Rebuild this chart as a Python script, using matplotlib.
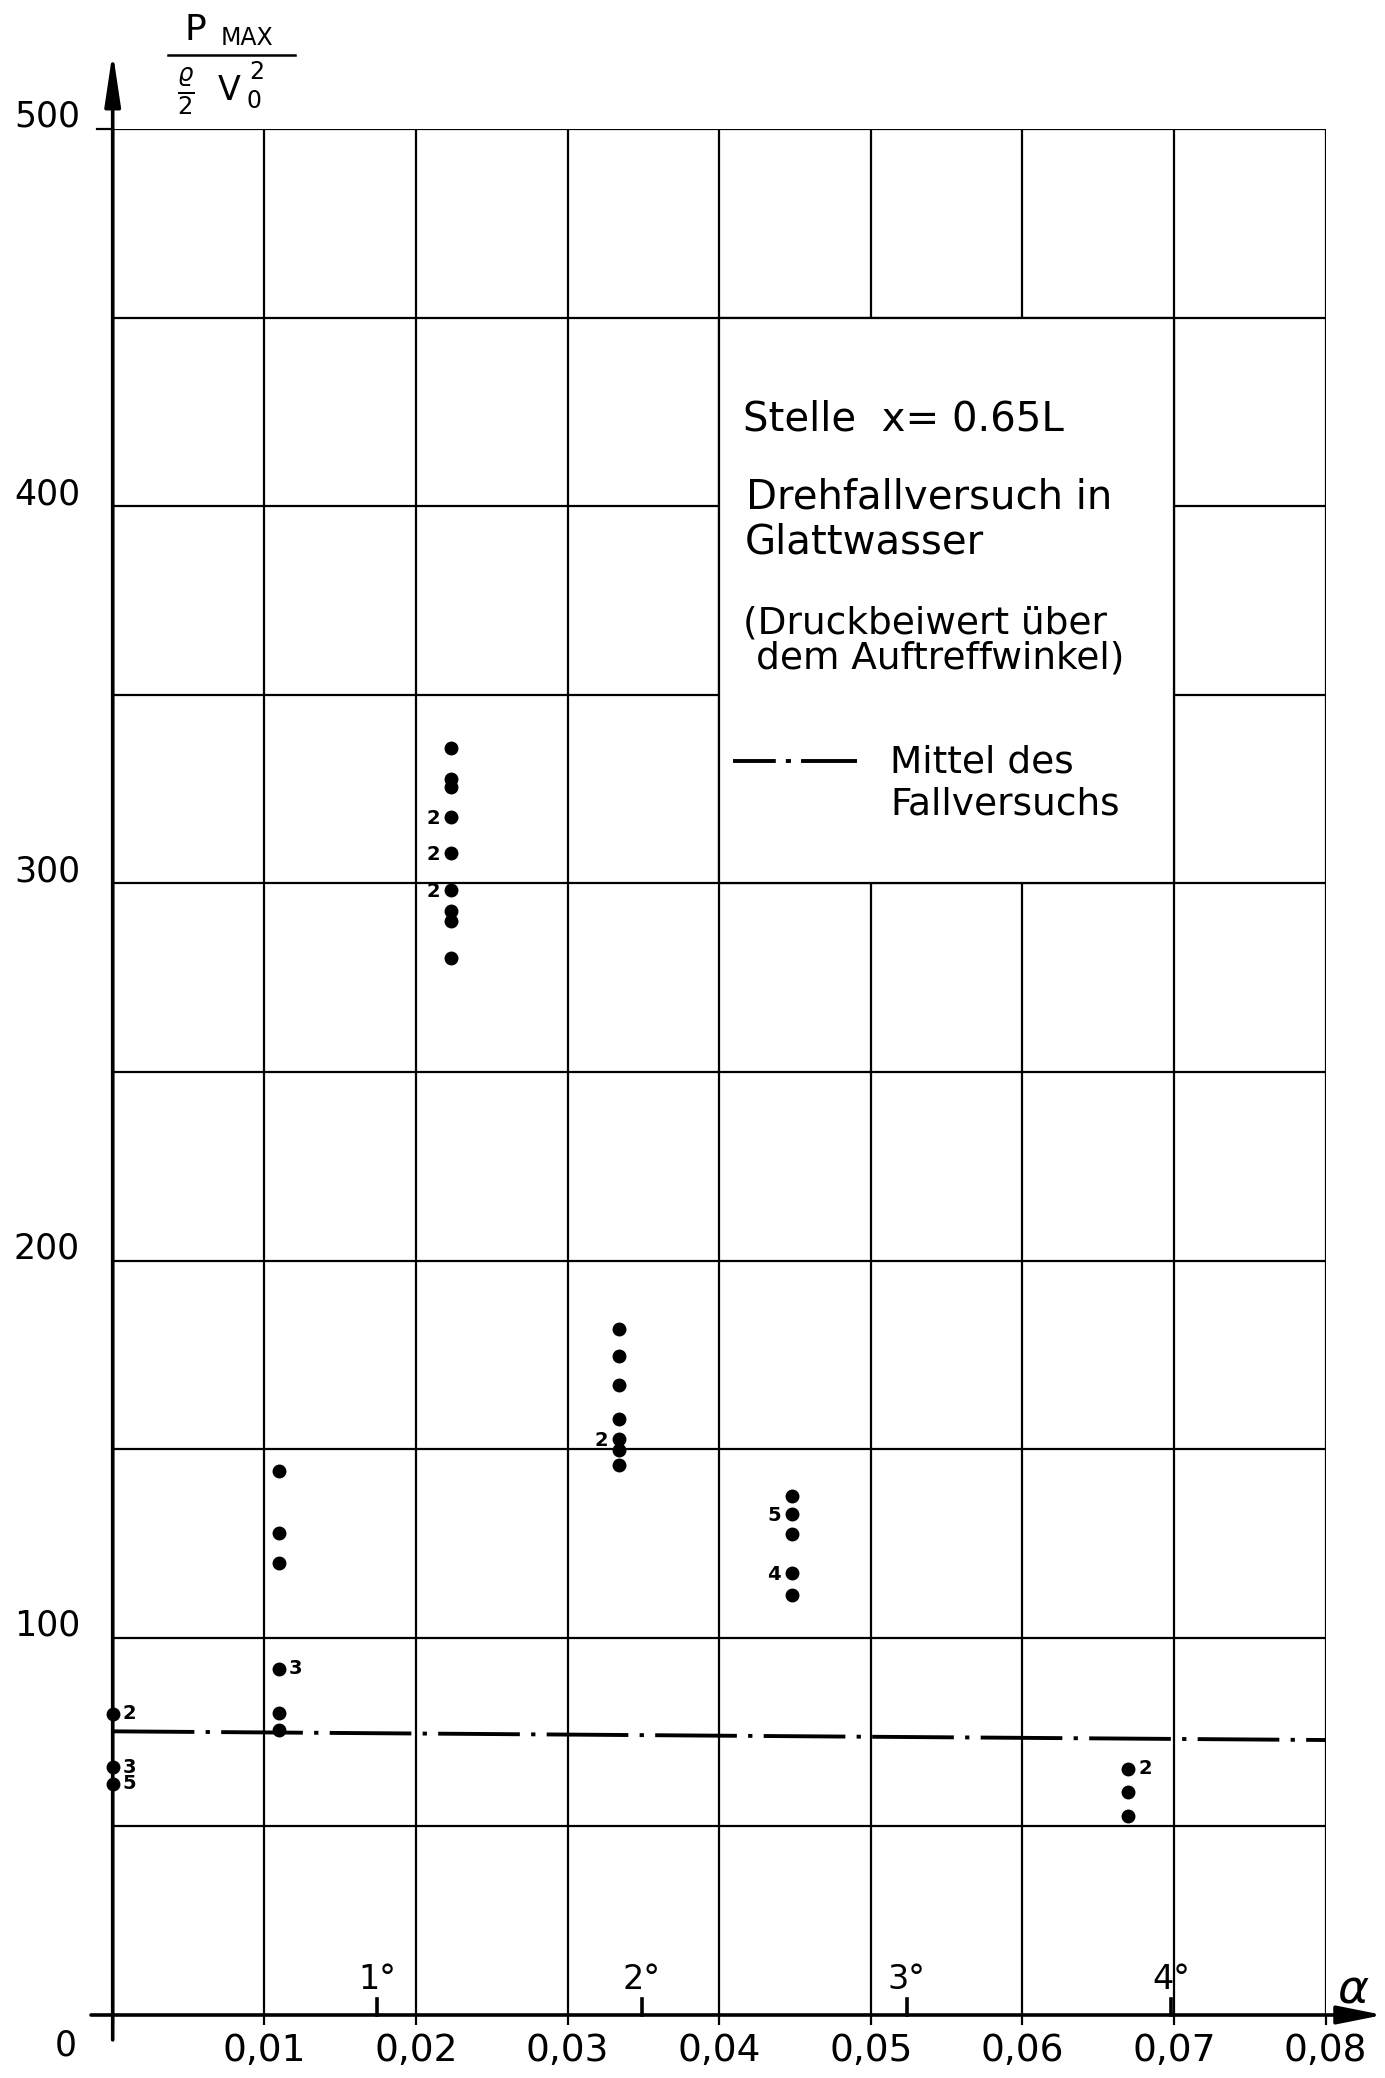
import numpy as np
import matplotlib
matplotlib.use("Agg")
import matplotlib.pyplot as plt
from matplotlib.patches import Rectangle

OUTPUT_FILE = "out.png"

# angle of impact (rad) for each measured point
alpha = [0.0, 0.0, 0.0,
         0.0110, 0.0110, 0.0110, 0.0110, 0.0110, 0.0110,
         0.0223, 0.0223, 0.0223, 0.0223, 0.0223, 0.0223, 0.0223, 0.0223, 0.0223,
         0.0334, 0.0334, 0.0334, 0.0334, 0.0334, 0.0334, 0.0334,
         0.0448, 0.0448, 0.0448, 0.0448, 0.0448,
         0.0670, 0.0670, 0.0670]
# pressure coefficient p_max / (rho/2 v0^2)
p_coef = [79.8, 65.7, 61.3,
          144.3, 127.8, 119.8, 91.8, 80.0, 75.6,
          336.0, 327.7, 325.6, 317.5, 308.1, 298.3, 292.6, 289.9, 280.3,
          181.9, 174.8, 167.0, 157.9, 152.6, 149.8, 145.7,
          137.6, 132.7, 127.4, 117.1, 111.3,
          65.3, 59.0, 52.8]
# number of repeated results at a point (blank = single)
n_repeat = ['2', '3', '5',
            '', '', '', '3', '', '',
            '', '', '', '2', '2', '2', '', '', '',
            '', '', '', '', '2', '', '',
            '', '5', '', '4', '',
            '2', '', '']

# mean of the drop test (dash-dot line), hand drawn, slightly sloped
mean_x = [0.0, 0.08]
mean_y = [75.2, 72.9]

x_ticks = [0.01, 0.02, 0.03, 0.04, 0.05, 0.06, 0.07, 0.08]
x_tick_labels = ["0,01", "0,02", "0,03", "0,04", "0,05", "0,06", "0,07", "0,08"]
y_grid = [50, 100, 150, 200, 250, 300, 350, 400, 450, 500]
y_labels = [100, 200, 300, 400, 500]
degrees = [1, 2, 3, 4]

GRID_LW = 1.6
AXIS_LW = 2.6

plt.rcParams['font.family'] = ['DejaVu Sans']

fig = plt.figure(figsize=(13.85, 20.78), dpi=100)
ax = fig.add_axes([0.08137, 0.03032, 0.8757, 0.9076])
ax.set_xlim(0, 0.08)
ax.set_ylim(0, 500)
for s in ax.spines.values():
    s.set_visible(False)

# grid
ax.set_xticks([0.0] + x_ticks)
ax.set_xticklabels([""] + x_tick_labels, fontsize=27)
ax.set_yticks(y_grid)
ax.set_yticklabels([])
ax.tick_params(axis='x', direction='out', length=7, width=GRID_LW, pad=6)
ax.tick_params(axis='y', length=0)
ax.set_axisbelow(True)
ax.grid(True, color='black', lw=GRID_LW)

# white text box over the grid
ax.add_patch(Rectangle((0.04, 300), 0.03, 150, facecolor='white',
                       edgecolor='black', lw=GRID_LW, zorder=1))

# top gridline sticks out a little on the left
ax.plot([-0.00105, 0], [500, 500], color='black', lw=GRID_LW, clip_on=False)

# axes with arrows
ax.annotate('', xy=(0.0838, 0), xytext=(-0.00143, 0),
            arrowprops=dict(arrowstyle='-|>,head_length=1.4,head_width=0.28',
                            mutation_scale=20, lw=AXIS_LW, color='black',
                            shrinkA=0, shrinkB=0),
            annotation_clip=False, zorder=4)
ax.annotate('', xy=(0, 520.4), xytext=(0, -6.6),
            arrowprops=dict(arrowstyle='-|>,head_length=1.6,head_width=0.24',
                            mutation_scale=20, lw=AXIS_LW, color='black',
                            shrinkA=0, shrinkB=0),
            annotation_clip=False, zorder=4)

# y labels sit just above their gridlines
for v in y_labels:
    ax.text(-0.00216, v + 3.2, str(v), ha='right', va='center', fontsize=25)
ax.text(-0.00308, -8.0, "0", ha='center', va='center', fontsize=25)

# degree marks on the alpha axis
for d in degrees:
    a = np.deg2rad(d)
    ax.plot([a, a], [0, 4.2], color='black', lw=AXIS_LW, clip_on=False, zorder=4)
    ax.text(a, 9.5, f"{d}°", ha='center', va='center', fontsize=24)
ax.text(0.0818, 6.6, r"$\alpha$", ha='center', va='center', fontsize=34)

# mean line
ax.plot(mean_x, mean_y, color='black', lw=2.8, dashes=(21, 2.9, 1.1, 2.9), zorder=3)

# measured points
ax.plot(alpha, p_coef, 'o', color='black', ms=9, zorder=5, clip_on=False)
for a, p, n in zip(alpha, p_coef, n_repeat):
    if not n:
        continue
    if 0.015 < a < 0.05:
        ax.annotate(n, (a, p), xytext=(-8, -1), textcoords='offset points',
                    ha='right', va='center', fontsize=14, fontweight='bold')
    else:
        ax.annotate(n, (a, p), xytext=(7, 0), textcoords='offset points',
                    ha='left', va='center', fontsize=14, fontweight='bold')

# text box
fs = 29
ax.text(0.0416, 423, "Stelle  x= 0.65L", ha='left', va='center', fontsize=fs)
ax.text(0.0418, 402.2, "Drehfallversuch in", ha='left', va='center', fontsize=fs)
ax.text(0.0417, 390.5, "Glattwasser", ha='left', va='center', fontsize=fs)
ax.text(0.0416, 369.0, "(Druckbeiwert über", ha='left', va='center', fontsize=fs - 2)
ax.text(0.0424, 359.5, "dem Auftreffwinkel)", ha='left', va='center', fontsize=fs - 2)
ax.plot([0.04092, 0.0491], [332.5, 332.5], color='black', lw=2.8,
        dashes=(11, 2.6, 1.3, 2.6, 15, 10), zorder=3)
ax.text(0.0513, 332.0, "Mittel des", ha='left', va='center', fontsize=fs - 2)
ax.text(0.0513, 321.0, "Fallversuchs", ha='left', va='center', fontsize=fs - 2)

# y-axis label: p_max / (rho/2 v0^2), placed by hand above the axis
fig.text(195 / 1385, 1 - 30 / 2078, "P", ha='center', va='center', fontsize=26)
fig.text(247 / 1385, 1 - 38 / 2078, "MAX", ha='center', va='center', fontsize=17)
fig.add_artist(plt.Line2D([168 / 1385, 295 / 1385], [1 - 55 / 2078, 1 - 55 / 2078],
                          color='black', lw=1.8))
fig.text(186 / 1385, 1 - 91 / 2078, r"$\frac{\varrho}{2}$", ha='center', va='center',
         fontsize=25)
fig.text(229 / 1385, 1 - 90 / 2078, "V", ha='center', va='center', fontsize=24)
fig.text(257 / 1385, 1 - 72 / 2078, "2", ha='center', va='center', fontsize=17)
fig.text(254 / 1385, 1 - 101 / 2078, "0", ha='center', va='center', fontsize=17)

fig.savefig(OUTPUT_FILE, dpi=100)
plt.close(fig)
